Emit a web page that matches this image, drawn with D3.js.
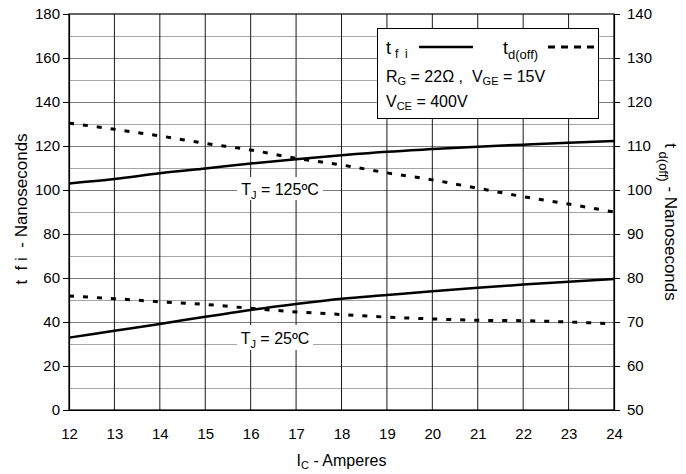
<!DOCTYPE html>
<html><head><meta charset="utf-8">
<script src="https://d3js.org/d3.v7.min.js"></script>
<style>
body{margin:0;background:#fff;}
svg{display:block;font-family:"Liberation Sans",Arial,sans-serif;}
</style></head>
<body>
<svg id="chart" width="686" height="474"></svg>
<script>
// ---- data ----
const ic = [12,13,14,15,16,17,18,19,20,21,22,23,24];
const tfi125 = [103,105,107.6,109.8,112,114,115.8,117.4,118.6,119.7,120.6,121.5,122.3];
const tfi25  = [32.9,36,39.1,42.4,45.5,48.2,50.6,52.3,54,55.6,57,58.3,59.5];
const tdoff125 = [115.2,113.8,112.3,110.6,109.1,107.2,105.7,103.9,102.3,100.4,98.5,96.8,95];
const tdoff25  = [75.9,75.3,74.6,74,73.1,72.3,71.7,71.1,70.7,70.4,70.3,70,69.6];
const xTicks = [12,13,14,15,16,17,18,19,20,21,22,23,24];
const leftTicks = [0,20,40,60,80,100,120,140,160,180];
const rightTicks = [50,60,70,80,90,100,110,120,130,140];
const leftGrid = [10,20,30,40,50,60,70,80,90,100,110,120,130,140,150,160,170];

const L=69, T=14, R=614, B=410;
const svg = d3.select("#chart");
const x = d3.scaleLinear().domain([12,24]).range([L,R]);
const yL = d3.scaleLinear().domain([0,180]).range([B,T]);
const yR = d3.scaleLinear().domain([50,140]).range([B,T]);

// grid
const g = svg.append("g");
g.selectAll("line.h").data(leftGrid).join("line")
  .attr("x1",L).attr("x2",R)
  .attr("y1",d=>Math.round(yL(d))+0.5).attr("y2",d=>Math.round(yL(d))+0.5)
  .attr("stroke",d=>d%20===0?"#7a7a7a":"#a6a6a6").attr("stroke-width",1);
g.selectAll("line.v").data(xTicks.slice(1,-1)).join("line")
  .attr("y1",T).attr("y2",B)
  .attr("x1",d=>x(d)).attr("x2",d=>x(d))
  .attr("stroke","#1a1a1a").attr("stroke-width",1);

// temperature labels with white background
function tLabel(cx, base, num, rx, rw, ry, rh){
  svg.append("rect").attr("x",rx).attr("y",ry).attr("width",rw).attr("height",rh).attr("fill","#fff");
  const t = svg.append("text").attr("x",cx).attr("y",base).attr("text-anchor","middle")
    .attr("font-size",16).attr("fill","#000");
  t.append("tspan").text("T");
  t.append("tspan").attr("font-size",11).attr("dy",4).text("J");
  t.append("tspan").attr("dy",-4).text(" = "+num+"ºC");
}
tLabel(280, 195, "125", 237, 86, 177, 23);
tLabel(275, 344, "25", 237, 76, 325, 25);

// lines
const lineL = d3.line().x((d,i)=>x(ic[i])).y(d=>yL(d)).curve(d3.curveMonotoneX);
const lineR = d3.line().x((d,i)=>x(ic[i])).y(d=>yR(d)).curve(d3.curveMonotoneX);
[tfi125, tfi25].forEach(s=>{
  svg.append("path").attr("d",lineL(s)).attr("fill","none").attr("stroke","#000").attr("stroke-width",2.5);
});
[tdoff125, tdoff25].forEach(s=>{
  svg.append("path").attr("d",lineR(s)).attr("fill","none").attr("stroke","#000")
    .attr("stroke-width",3).attr("stroke-dasharray","5,9");
});

// frame
svg.append("rect").attr("x",L).attr("y",T).attr("width",R-L).attr("height",B-T)
  .attr("fill","none").attr("stroke","#000").attr("stroke-width",1.2);

// axes
const axL = svg.append("g").attr("transform",`translate(${L},0)`)
  .call(d3.axisLeft(yL).tickValues(leftTicks).tickSize(6).tickPadding(3).tickSizeOuter(0));
const axR = svg.append("g").attr("transform",`translate(${R},0)`)
  .call(d3.axisRight(yR).tickValues(rightTicks).tickSize(6).tickPadding(7).tickSizeOuter(0));
const axB = svg.append("g").attr("transform",`translate(0,${B})`)
  .call(d3.axisBottom(x).tickValues(xTicks).tickSize(0).tickPadding(18).tickSizeOuter(0).tickFormat(d3.format("d")));
[axL,axR,axB].forEach(a=>{
  a.select(".domain").attr("stroke","#000").attr("stroke-width",1.2);
  a.selectAll(".tick line").attr("stroke","#000");
  a.selectAll("text").attr("font-size",15).attr("font-family","'Liberation Sans',Arial,sans-serif").attr("fill","#000");
});

// axis titles
const xt = svg.append("text").attr("x",(L+R)/2).attr("y",466).attr("text-anchor","middle").attr("font-size",16);
xt.append("tspan").text("I");
xt.append("tspan").attr("font-size",11).attr("dy",3).text("C");
xt.append("tspan").attr("dy",-3).text(" - Amperes");

const lt = svg.append("text").attr("transform",`translate(27,209) rotate(-90)`)
  .attr("text-anchor","middle").attr("font-size",17).style("white-space","pre");
lt.append("tspan").text("t  f i  - Nanoseconds");

const rt = svg.append("text").attr("transform",`translate(665,222) rotate(90)`)
  .attr("text-anchor","middle").attr("font-size",17);
rt.append("tspan").text("t");
rt.append("tspan").attr("font-size",13).attr("dy",6).text(" d(off)");
rt.append("tspan").attr("dy",-6).text(" - Nanoseconds");

// legend box
svg.append("rect").attr("x",377.5).attr("y",28.5).attr("width",221).attr("height",90)
  .attr("fill","#fff").attr("stroke","#000").attr("stroke-width",1);
const lg = svg.append("g");
const t1 = lg.append("text").attr("x",386).attr("y",54).attr("font-size",18);
t1.append("tspan").text("t");
t1.append("tspan").attr("font-size",12).attr("dy",4).attr("dx",4).style("white-space","pre").text("f  i");
lg.append("line").attr("x1",419).attr("x2",473).attr("y1",47).attr("y2",47).attr("stroke","#000").attr("stroke-width",2.5);
const t2 = lg.append("text").attr("x",503).attr("y",54).attr("font-size",18);
t2.append("tspan").text("t");
t2.append("tspan").attr("font-size",13).attr("dy",5).text("d(off)");
lg.append("line").attr("x1",548).attr("x2",594).attr("y1",47).attr("y2",47).attr("stroke","#000")
  .attr("stroke-width",3).attr("stroke-dasharray","7,6");
const t3 = lg.append("text").attr("x",386).attr("y",82).attr("font-size",16).style("white-space","pre");
t3.append("tspan").text("R");
t3.append("tspan").attr("font-size",11).attr("dy",3).text("G");
t3.append("tspan").attr("dy",-3).text(" = 22Ω ,  V");
t3.append("tspan").attr("font-size",11).attr("dy",3).text("GE");
t3.append("tspan").attr("dy",-3).text(" = 15V");
const t4 = lg.append("text").attr("x",386).attr("y",107).attr("font-size",16);
t4.append("tspan").text("V");
t4.append("tspan").attr("font-size",11).attr("dy",3).text("CE");
t4.append("tspan").attr("dy",-3).text(" = 400V");
</script>
</body></html>
